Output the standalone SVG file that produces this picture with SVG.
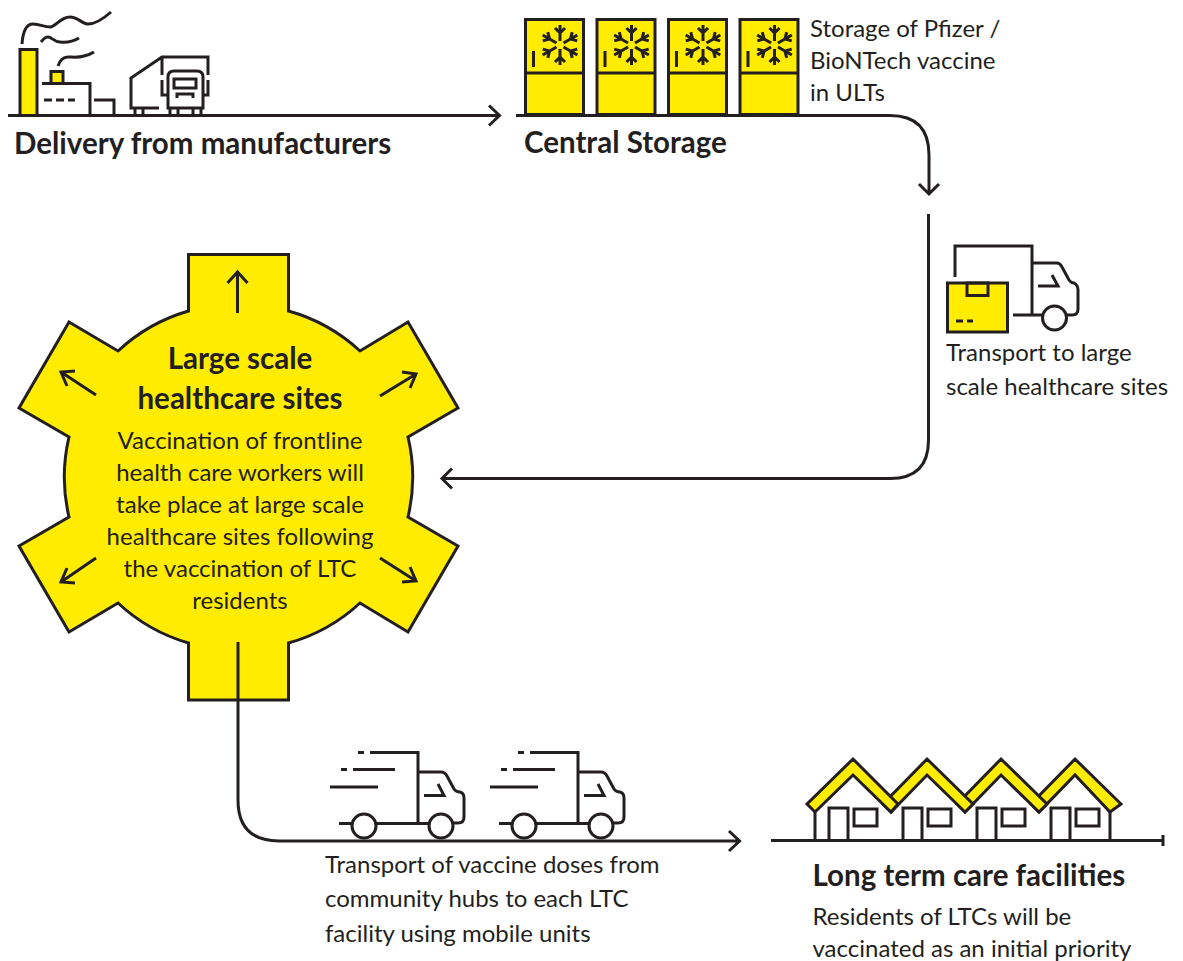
<svg xmlns="http://www.w3.org/2000/svg" xmlns:xlink="http://www.w3.org/1999/xlink" width="1183" height="961" viewBox="0 0 1183 961">
<style>
text{font-family:Lato,"Liberation Sans",sans-serif;fill:#231F20}
.h{font-weight:700;font-size:29.500px}
.b{font-size:24px}
.m{text-anchor:middle}
.l{fill:none;stroke:#231F20;stroke-width:3}
.y{fill:#FFEC00;stroke:#231F20;stroke-width:3}
.w{fill:#fff;stroke:#231F20;stroke-width:3}
.t{fill:none;stroke:#231F20;stroke-width:3}
</style>
<defs>
<g id="flake" class="t">
<g id="arm"><path d="M0-4V-20M-5-17L0-12L5-17"/></g>
<use xlink:href="#arm" transform="rotate(60)"/><use xlink:href="#arm" transform="rotate(120)"/><use xlink:href="#arm" transform="rotate(180)"/><use xlink:href="#arm" transform="rotate(240)"/><use xlink:href="#arm" transform="rotate(300)"/>
</g>
<g id="ult">
<rect class="y" x="525.500" y="19.500" width="58" height="95"/>
<path class="l" d="M525.500 73H583.500M533.500 51V67"/>
<use xlink:href="#flake" x="560" y="45"/>
</g>
<g id="speed">
<path class="l" d="M358 752.500H364M370 752.500H418V823M418 772H441Q445 772 447 776L454 789Q456 792 460 792Q464 793 464 798V817Q464 823 458 823H453M341 769.500H347M353 769.500H395M330 787H378M339 823.500H352M376 823.500H429M424 795.500H444L438 784"/>
<circle class="w" cx="364" cy="826" r="12"/><circle class="w" cx="441" cy="826" r="12"/>
</g>
<g id="house">
<path class="l" d="M829 840V808H848V840"/><rect class="l" x="854" y="809" width="23" height="17"/>
</g>
</defs>

<g id="manufacturers">
<rect class="y" x="20" y="49.500" width="17" height="66"/>
<rect class="y" x="51" y="71.500" width="12" height="12"/>
<path class="l" d="M42 83.500H90V115M44 100H52M56 100H64M68 100H75M94 100H114V115M22 44C23 30 27 24 33 24C40 24 44 27 50 27C56 27 60 17 70 17C78 17 82 24 88 24C94 24 102 20 111 12M41 42C44 38 46 37 48 37C52 37 54 42 60 42C68 43 74 41 79 38M58 66C60 60 63 57 68 57C72 57 78 58 84 56C88 55 91 54 94 52"/>
<path class="l" d="M159 108H131V78L162 57H208V75M162 57V75M162 80V95H167M208 80V95H203M168 108V77Q168 71 174 71H197Q203 71 203 77V108H168Z"/>
<rect class="l" x="174" y="79" width="22" height="9"/>
<path class="l" d="M177 98V94H193V98M135 108V115M143 108V115M170 108V115M178 108V115M193 108V115M201 108V115"/>
<text class="h" x="14" y="154">Delivery from manufacturers</text>
</g>

<g id="central-storage">
<use xlink:href="#ult"/>
<use xlink:href="#ult" x="71.500"/>
<use xlink:href="#ult" x="143"/>
<use xlink:href="#ult" x="214.500"/>
<text class="h" x="524" y="153">Central Storage</text>
<text class="b" x="810" y="37">Storage of Pfizer /</text>
<text class="b" x="810" y="69">BioNTech vaccine</text>
<text class="b" x="810" y="101">in ULTs</text>
</g>

<g id="transport-large">
<path class="l" d="M955 277V246H1032V315M1013 315H1042M1032 263H1057Q1060 263 1062 267L1069 280Q1071 283 1074 283Q1078 285 1078 290V309Q1078 315 1072 315H1067M1038 286H1058L1052 275"/>
<circle class="w" cx="1054.500" cy="318" r="12"/>
<rect class="y" x="947.500" y="283" width="60" height="49"/>
<rect class="l" x="967" y="283" width="21" height="12.500"/>
<path class="l" d="M956 321H963M967 321H973"/>
<text class="b" x="946" y="361">Transport to large</text>
<text class="b" x="946" y="395">scale healthcare sites</text>
</g>

<g id="large-scale-sites">
<path class="y" d="M188.500 254.500H288.500V311A174 174 0 0 1 360 351L408 322L458 408L408 437A174 174 0 0 1 408 517L458 546L408 632L360 603A174 174 0 0 1 288.500 643V700H188.500V643A174 174 0 0 1 118 603L69 632L19 546L69 517A174 174 0 0 1 69 437L19 408L69 322L118 351A174 174 0 0 1 188.500 311Z"/>
<path class="l" d="M237.500 313V272M227.500 283L237.500 272L247.500 283M96 395L61 372M75 371L61 372L67 386M380 396L416 374M402 372L416 374L410 388M96 558L61 582M67 568L61 582L75 583M380 558L416 581M410 567L416 581L402 582"/>
<text class="h m" x="240" y="369">Large scale</text>
<text class="h m" x="240" y="409">healthcare sites</text>
<text class="b m" x="240" y="449">Vaccination of frontline</text>
<text class="b m" x="240" y="481">health care workers will</text>
<text class="b m" x="240" y="513">take place at large scale</text>
<text class="b m" x="240" y="545">healthcare sites following</text>
<text class="b m" x="240" y="577">the vaccination of LTC</text>
<text class="b m" x="240" y="609">residents</text>
</g>

<g id="transport-mobile">
<use xlink:href="#speed"/>
<use xlink:href="#speed" x="160"/>
<text class="b" x="325" y="873">Transport of vaccine doses from</text>
<text class="b" x="325" y="907">community hubs to each LTC</text>
<text class="b" x="325" y="942">facility using mobile units</text>
</g>

<g id="ltc">
<path class="l" d="M771 840.500H1163M1163 835V846M815 812V840M1110 812V840"/>
<use xlink:href="#house"/><use xlink:href="#house" x="74"/><use xlink:href="#house" x="148"/><use xlink:href="#house" x="222"/>
<path class="y" d="M1075 759L1121 804L1110 812L1075 775L1039 812L1031 804Z"/>
<path class="y" d="M1001 759L1047 804L1039 812L1001 775L965 812L957 804Z"/>
<path class="y" d="M927 759L973 804L965 812L927 775L891 812L883 804Z"/>
<path class="y" d="M853 759L898 804L891 812L853 775L815 812L807 804Z"/>
<text class="h" x="812.500" y="886">Long term care facilities</text>
<text class="b" x="812.500" y="925">Residents of LTCs will be</text>
<text class="b" x="812.500" y="957">vaccinated as an initial priority</text>
</g>

<g id="connectors" class="l">
<path d="M8 115.500H499M489 105.500L499.500 115.500L489 125.500"/>
<path d="M516 115.500H890Q929 115.500 929 155V193M919 184L929 194L939 184"/>
<path d="M928.500 214V440Q928.500 478.500 890 478.500H442M452 468.500L442 478.500L452 488.500"/>
<path d="M238 642V800Q238 841 279 841H739M729 831L739.500 841L729 851"/>
</g>
</svg>
